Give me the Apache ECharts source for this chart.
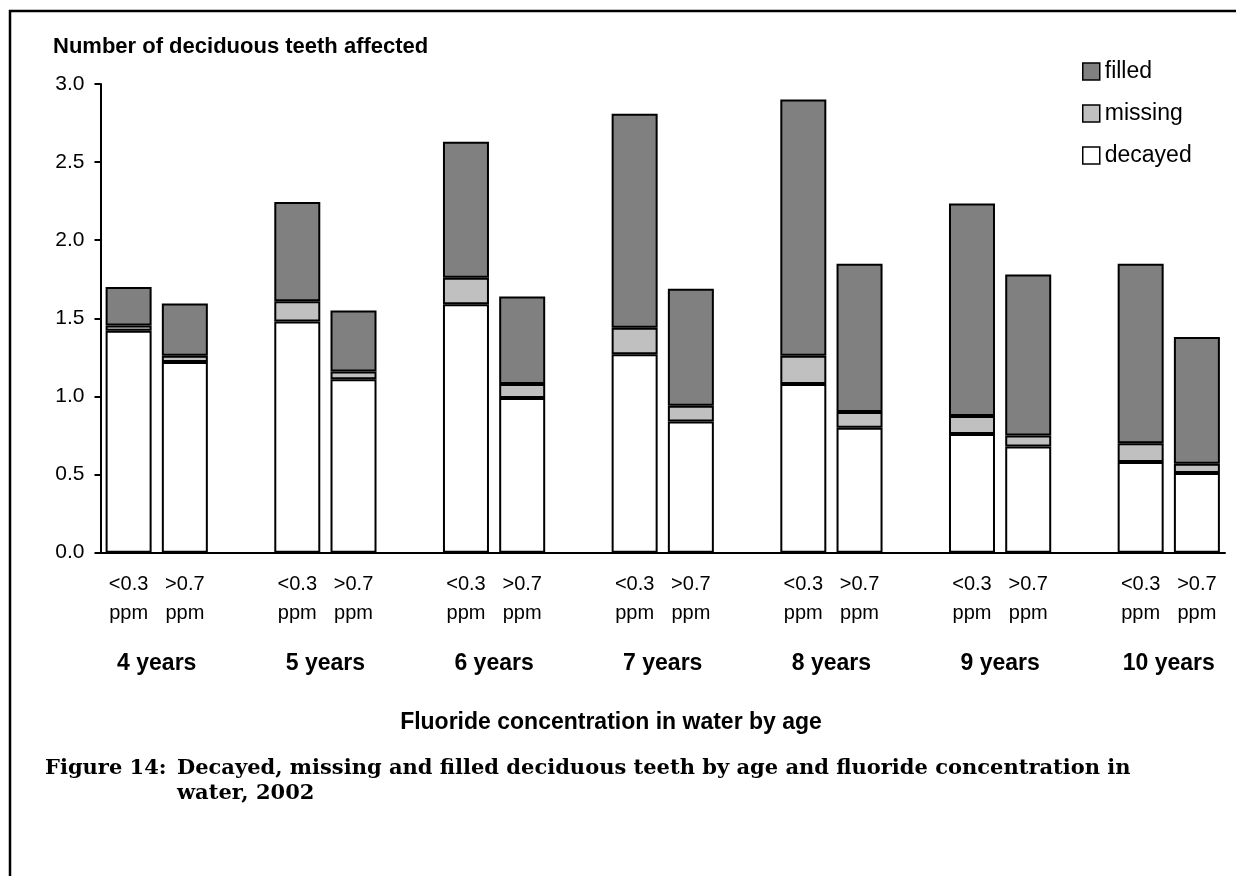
<!DOCTYPE html>
<html>
<head>
<meta charset="utf-8">
<script src="https://cdn.jsdelivr.net/npm/echarts@6/dist/echarts.min.js"></script>
<style>html,body{margin:0;padding:0;background:#fff}#c{width:1236px;height:876px}</style>
</head>
<body>
<div id="c"></div>
<script>
// ---- data ----
const ages = ['4 years','5 years','6 years','7 years','8 years','9 years','10 years'];
const concentrations = ['<0.3\nppm', '>0.7\nppm'];
// order per age: <0.3 ppm, >0.7 ppm
const decayed = [1.42,1.22, 1.48,1.11, 1.59,0.99, 1.27,0.84, 1.08,0.80, 0.76,0.68, 0.58,0.51];
const missing = [0.035,0.04, 0.13,0.05, 0.17,0.09, 0.17,0.10, 0.18,0.10, 0.115,0.07, 0.12,0.06];
const filled  = [0.245,0.335, 0.635,0.39, 0.87,0.56, 1.37,0.75, 1.64,0.95, 1.36,1.03, 1.15,0.81];
const seriesNames = ['decayed','missing','filled'];
const yMin = 0, yMax = 3, yStep = 0.5;
const yTitle = 'Number of deciduous teeth affected';
const xTitle = 'Fluoride concentration in water by age';
const captionLabel = 'Figure 14:';
const captionLine1 = 'Decayed, missing and filled deciduous teeth by age and fluoride concentration in';
const captionLine2 = 'water, 2002';

// ---- build slot layout: two bars per age plus a spacer slot between ages ----
const slotLabels = [];
const slotIndexOfBar = [];
ages.forEach((a, g) => {
  concentrations.forEach((c, k) => { slotIndexOfBar.push(slotLabels.length); slotLabels.push(c); });
  if (g < ages.length - 1) slotLabels.push('');
});
const slotKeys = slotLabels.map((_, i) => 's' + i);
function toSlots(arr) {
  const out = slotLabels.map(() => null);
  arr.forEach((v, i) => { out[slotIndexOfBar[i]] = v; });
  return out;
}
// age axis: boundary points (one more than slots), age label at the boundary between its two bars
const ageKeys = [], ageLabels = [];
for (let i = 0; i <= slotLabels.length; i++) { ageKeys.push('b' + i); ageLabels.push(''); }
ages.forEach((a, g) => { ageLabels[3 * g + 1] = a; });

const sans = 'Liberation Sans, Arial, sans-serif';
const serif = 'DejaVu Serif, serif';
const colors = { decayed: '#ffffff', missing: '#c0c0c0', filled: '#808080' };
const valuesByName = { decayed, missing, filled };

const chart = echarts.init(document.getElementById('c'), null, { renderer: 'canvas' });
chart.setOption({
  animation: false,
  backgroundColor: '#ffffff',
  grid: { left: 100.5, right: 11, top: 84, bottom: 323.3, containLabel: false },
  title: [
    { text: yTitle, left: 48, top: 31, textStyle: { fontFamily: sans, fontSize: 22, fontWeight: 'bold', color: '#000' } }
  ],
  legend: {
    orient: 'vertical', left: 1082, top: 60, padding: 0,
    data: ['filled', 'missing', 'decayed'],
    itemWidth: 17, itemHeight: 17, itemGap: 19, icon: 'rect',
    textStyle: { fontFamily: sans, fontSize: 23, color: '#000', lineHeight: 18 },
    itemStyle: { borderColor: '#000', borderWidth: 1.5 }
  },
  xAxis: [
    {
      type: 'category', data: slotKeys, position: 'bottom',
      axisLine: { show: true, lineStyle: { color: '#000', width: 2 } },
      axisTick: { show: false },
      axisLabel: {
        interval: 0, margin: 17, fontFamily: sans, fontSize: 20, color: '#000', lineHeight: 29,
        formatter: (v, i) => slotLabels[i]
      }
    },
    {
      type: 'category', data: ageKeys, position: 'bottom', boundaryGap: false,
      axisLine: { show: false }, axisTick: { show: false },
      axisLabel: {
        interval: 0, margin: 100, fontFamily: sans, fontSize: 23, fontWeight: 'bold', color: '#000', lineHeight: 22,
        formatter: (v, i) => ageLabels[i]
      }
    }
  ],
  yAxis: {
    type: 'value', min: yMin, max: yMax, interval: yStep,
    axisLine: { show: true, lineStyle: { color: '#000', width: 2 } },
    axisTick: { show: true, inside: false, length: 6, lineStyle: { color: '#000', width: 2 } },
    splitLine: { show: false },
    axisLabel: { margin: 16, fontFamily: sans, fontSize: 21, color: '#000', formatter: v => v.toFixed(1) }
  },
  series: seriesNames.map(name => ({
    name, type: 'bar', stack: 'teeth', xAxisIndex: 0, barWidth: 46,
    data: toSlots(valuesByName[name]),
    itemStyle: { color: colors[name], borderColor: '#000', borderWidth: 2 },
    emphasis: { disabled: true }
  })),
  graphic: [
    { type: 'polyline', silent: true, shape: { points: [[10, 880], [10, 11], [1240, 11]] },
      style: { stroke: '#000', lineWidth: 2.5, fill: null } },
    { type: 'text', silent: true,
      style: { text: xTitle, x: 611, y: 723, textAlign: 'center', textVerticalAlign: 'middle',
               font: 'bold 23px ' + sans, fill: '#000' } },
    { type: 'text', silent: true,
      style: { text: captionLabel, x: 45, y: 769, textVerticalAlign: 'middle',
               font: 'bold 21px ' + serif, fill: '#000' } },
    { type: 'text', silent: true,
      style: { text: captionLine1, x: 177, y: 769, textVerticalAlign: 'middle',
               font: 'bold 21px ' + serif, fill: '#000' } },
    { type: 'text', silent: true,
      style: { text: captionLine2, x: 177, y: 794, textVerticalAlign: 'middle',
               font: 'bold 21px ' + serif, fill: '#000' } }
  ]
});
</script>
</body>
</html>
